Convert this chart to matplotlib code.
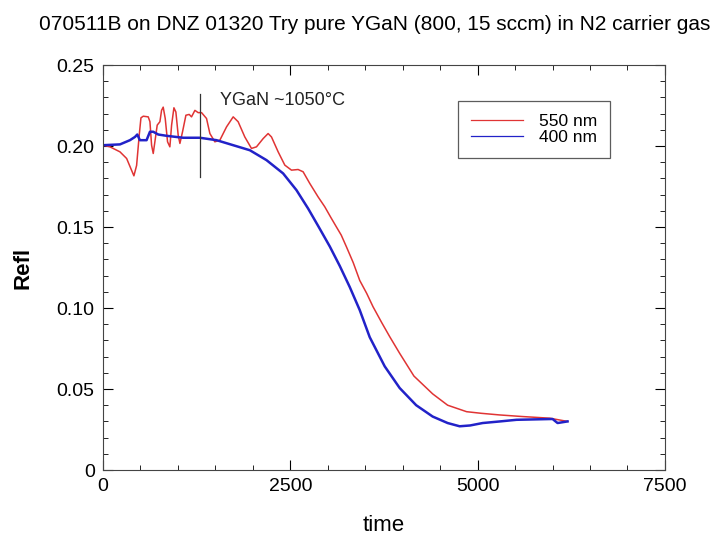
import matplotlib.pyplot as plt
from matplotlib.ticker import MultipleLocator

plt.rcParams['font.family'] = ['Liberation Sans', 'DejaVu Sans']

title = "070511B on DNZ 01320 Try pure YGaN (800, 15 sccm) in N2 carrier gas"

# 550 nm trace
t_550 = [0, 93, 227, 316, 382, 413, 449, 484, 507, 538, 604, 627, 649, 671, 693,
         724, 760, 782, 804, 831, 862, 893, 916, 947, 973, 1004, 1027, 1062, 1107,
         1151, 1182, 1227, 1271, 1316, 1382, 1427, 1493, 1560, 1649, 1738, 1804,
         1893, 1982, 2049, 2138, 2204, 2249, 2338, 2427, 2516, 2604, 2671, 2760,
         2871, 2960, 3040, 3116, 3180, 3249, 3340, 3427, 3520, 3604, 3720, 3827,
         3960, 4150, 4400, 4600, 4853, 5050, 5293, 5600, 5960, 6200]
r_550 = [0.2005, 0.1995, 0.1964, 0.1923, 0.185, 0.1816, 0.188, 0.2067, 0.2174,
         0.2184, 0.218, 0.215, 0.2005, 0.1954, 0.2026, 0.2129, 0.215, 0.222, 0.224,
         0.217, 0.2026, 0.1995, 0.2129, 0.2236, 0.221, 0.2067, 0.2016, 0.2088,
         0.219, 0.2195, 0.218, 0.222, 0.2206, 0.2206, 0.217, 0.2077, 0.2026,
         0.2036, 0.2118, 0.218, 0.215, 0.2056, 0.1985, 0.1995, 0.2046, 0.2077,
         0.2056, 0.1964, 0.1882, 0.1851, 0.1855, 0.1841, 0.1769, 0.1686, 0.1625,
         0.156, 0.150, 0.145, 0.1378, 0.128, 0.117, 0.109, 0.1008, 0.091, 0.0823,
         0.072, 0.058, 0.047, 0.040, 0.036, 0.035, 0.034, 0.033, 0.032, 0.030]

# 400 nm trace
t_400 = [0, 227, 360, 427, 458, 493, 582, 627, 671, 738, 849, 1071, 1293, 1516,
         1738, 1960, 2182, 2404, 2582, 2738, 2880, 3027, 3160, 3293, 3427, 3560,
         3760, 3960, 4180, 4400, 4600, 4760, 4900, 5067, 5300, 5520, 6000, 6067, 6200]
r_400 = [0.2005, 0.201, 0.2036, 0.2056, 0.2071, 0.2036, 0.2036, 0.2088, 0.2088,
         0.2071, 0.2063, 0.2051, 0.2051, 0.2036, 0.2005, 0.1974, 0.1913, 0.1831,
         0.1728, 0.1614, 0.150, 0.138, 0.126, 0.113, 0.0987, 0.082, 0.064, 0.0506,
         0.040, 0.033, 0.029, 0.027, 0.0275, 0.029, 0.030, 0.031, 0.0315, 0.029, 0.030]

marker_t = 1293
marker_lo, marker_hi = 0.181, 0.232
note = "YGaN ~1050\u00b0C"

fig = plt.figure(figsize=(7.15, 5.4), dpi=100)
ax = fig.add_axes([0.144, 0.1296, 0.786, 0.75])

ax.plot(t_550, r_550, color='#e03434', lw=1.1, label='550 nm')
ax.plot(t_400, r_400, color='#2222c8', lw=1.8, label='400 nm')

ax.plot([marker_t, marker_t], [marker_lo, marker_hi], color='#333333', lw=0.9)
ax.text(1560, 0.228, note, fontsize=13, va='center', ha='left', color='#222222')

ax.set_xlim(0, 7500)
ax.set_ylim(0, 0.25)
ax.set_xticks([0, 2500, 5000, 7500])
ax.set_yticks([0, 0.05, 0.10, 0.15, 0.20, 0.25])
ax.set_yticklabels(['0', '0.05', '0.10', '0.15', '0.20', '0.25'])
ax.xaxis.set_minor_locator(MultipleLocator(500))
ax.yaxis.set_minor_locator(MultipleLocator(0.01))
ax.tick_params(which='both', direction='in', top=True, right=True, labelsize=14)
ax.tick_params(which='major', length=7, pad=6)
ax.tick_params(which='minor', length=3.5)
for s in ax.spines.values():
    s.set_color('#444444')

ax.set_xlabel('time', fontsize=16, labelpad=14)
ax.set_ylabel('Refl', fontsize=16, fontweight='bold', labelpad=17)
fig.suptitle(title, x=0.524, y=0.972, fontsize=15)

leg = ax.legend(loc='upper right', bbox_to_anchor=(0.902, 0.911), fontsize=12.5,
                handlelength=3.0, frameon=True, fancybox=False, borderpad=0.75,
                labelspacing=0.05, handletextpad=0.9, borderaxespad=0)
leg.get_frame().set_edgecolor('#333333')
leg.get_frame().set_linewidth(0.9)
for line in leg.get_lines():
    line.set_linewidth(0.9)

fig.savefig('out.png', dpi=100)
